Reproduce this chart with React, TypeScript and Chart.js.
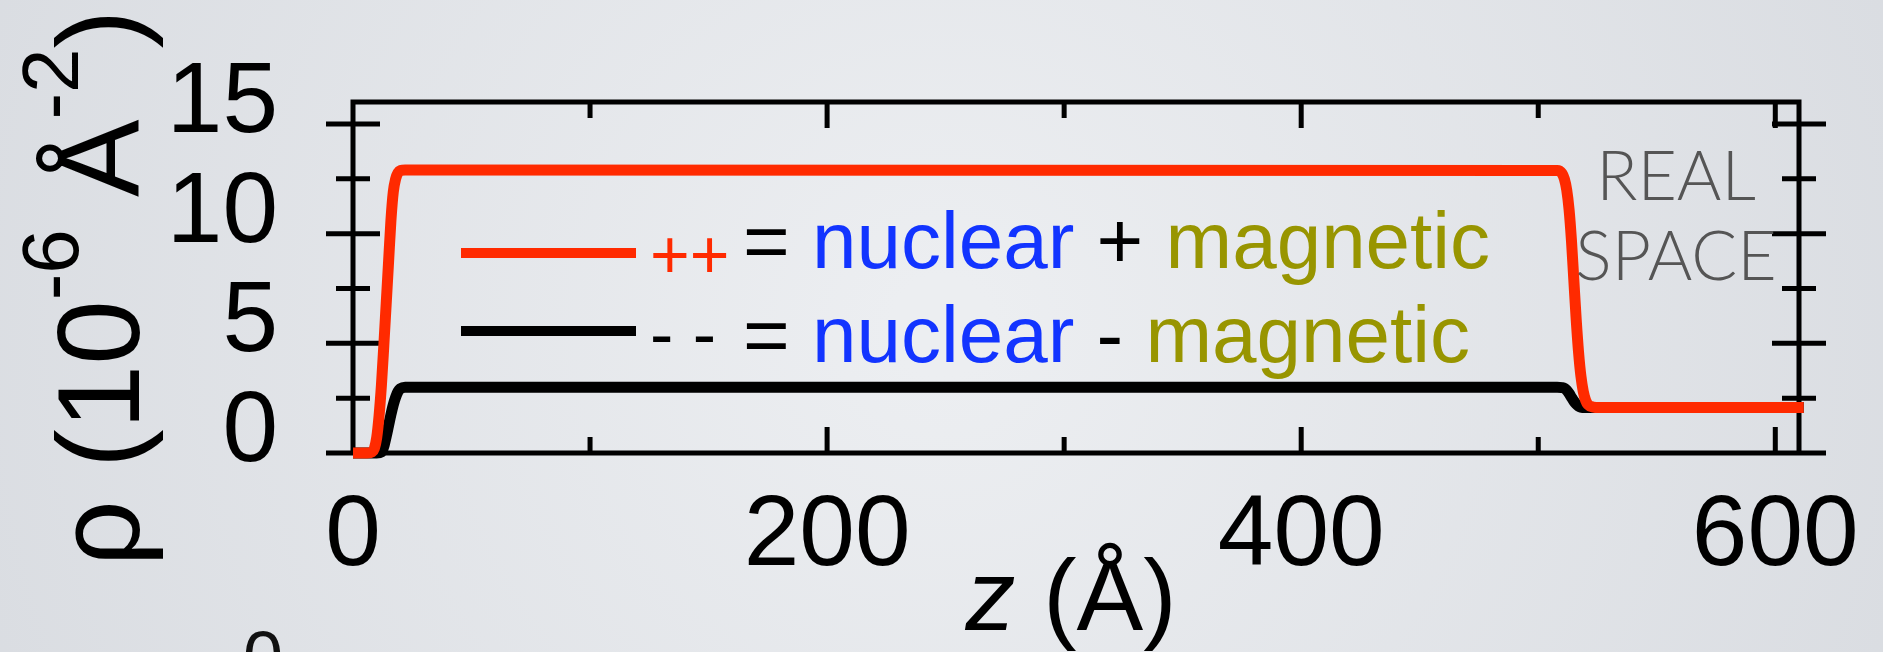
import { useEffect, useRef } from 'react';
import { Chart, registerables } from 'chart.js';

Chart.register(...registerables);

const W = 1883;
const H = 652;

// Spin-up (++) scattering length density profile: z in Å, ρ in 10^-6 Å^-2
const upUpZ = [0, 6, 8, 9, 10, 11, 12, 13, 14, 15, 16, 17, 18, 19, 20, 22, 508, 510, 511, 512, 513, 514, 515, 516, 517, 518, 519, 520, 521, 523, 526, 612];
const upUpRho = [0, 0, 0.05, 0.2, 0.7, 1.7, 3.1, 4.9, 6.8, 8.7, 10.6, 11.9, 12.5, 12.78, 12.88, 12.9, 12.88, 12.75, 12.5, 12.0, 11.1, 9.7, 7.9, 6.1, 4.6, 3.5, 2.8, 2.4, 2.2, 2.1, 2.07, 2.07];

// Spin-down (--) profile
const downDownZ = [0, 10, 12, 13, 14, 15, 16, 17, 18, 19, 20, 22, 508, 510, 511, 512, 513, 514, 515, 516, 517, 518, 520, 612];
const downDownRho = [0, 0, 0.05, 0.3, 0.75, 1.25, 1.75, 2.2, 2.55, 2.8, 2.93, 3.0, 3.0, 2.98, 2.95, 2.86, 2.72, 2.54, 2.37, 2.23, 2.14, 2.09, 2.07, 2.07];

const xTickValues = [100, 200, 300, 400, 500, 600];
const xLabelValues = [0, 200, 400, 600];
const yTickValues = [0, 2.5, 5, 7.5, 10, 12.5, 15];
const yLabelValues = [0, 5, 10, 15];

const RED = '#ff2a00';
const BLUE = '#1234ff';
const OLIVE = '#989500';
const SANS = '"Liberation Sans", Arial, Helvetica, sans-serif';
const PROFILE_WIDTH = 11;

const backgroundPlugin = {
  id: 'slideBackground',
  beforeDraw(chart: any) {
    const { ctx, width, height } = chart;
    ctx.save();
    const g = ctx.createRadialGradient(width / 2, height / 2, 50, width / 2, height / 2, 1050);
    g.addColorStop(0, '#eceef1');
    g.addColorStop(1, '#d9dce1');
    ctx.fillStyle = g;
    ctx.fillRect(0, 0, width, height);
    ctx.restore();
  },
};

const framePlugin = {
  id: 'frameAndTicks',
  beforeDatasetsDraw(chart: any) {
    const { ctx, chartArea: a, scales } = chart;
    const x = scales.x;
    const y = scales.y;
    ctx.save();
    ctx.strokeStyle = '#000';
    ctx.lineWidth = 5;
    ctx.lineCap = 'butt';
    ctx.lineJoin = 'miter';
    ctx.beginPath();
    ctx.moveTo(a.left, a.bottom);
    ctx.lineTo(a.left, a.top);
    ctx.lineTo(a.right, a.top);
    ctx.lineTo(a.right, a.bottom);
    ctx.stroke();

    ctx.beginPath();
    for (const v of yTickValues) {
      const py = y.getPixelForValue(v);
      const len = v % 5 === 0 ? 27 : 17;
      ctx.moveTo(a.left - len, py);
      ctx.lineTo(a.left + len, py);
      ctx.moveTo(a.right - len, py);
      ctx.lineTo(a.right + len, py);
    }
    ctx.moveTo(a.left, a.bottom);
    ctx.lineTo(a.right, a.bottom);
    for (const v of xTickValues) {
      const px = x.getPixelForValue(v);
      const len = v % 200 === 0 ? 26 : 16;
      ctx.moveTo(px, a.bottom);
      ctx.lineTo(px, a.bottom - len);
      ctx.moveTo(px, a.top);
      ctx.lineTo(px, a.top + len);
    }
    ctx.stroke();
    ctx.restore();
  },
};

type Seg = { t: string; color?: string; font?: string; dy?: number };

function drawRun(ctx: CanvasRenderingContext2D, segs: Seg[], x0: number, y0: number) {
  let x = x0;
  for (const s of segs) {
    ctx.font = s.font || `80px ${SANS}`;
    ctx.fillStyle = s.color || '#000';
    ctx.fillText(s.t, x, y0 + (s.dy || 0));
    x += ctx.measureText(s.t).width;
  }
}

function runWidth(ctx: CanvasRenderingContext2D, segs: Seg[]) {
  let w = 0;
  for (const s of segs) {
    ctx.font = s.font || `80px ${SANS}`;
    w += ctx.measureText(s.t).width;
  }
  return w;
}

const textPlugin = {
  id: 'annotations',
  afterDatasetsDraw(chart: any) {
    const { ctx, chartArea: a, scales } = chart;
    const x = scales.x;
    const y = scales.y;
    ctx.save();
    ctx.textBaseline = 'alphabetic';

    // tick labels
    ctx.fillStyle = '#000';
    ctx.font = `100px ${SANS}`;
    ctx.textAlign = 'right';
    for (const v of yLabelValues) {
      ctx.fillText(String(v), 278, y.getPixelForValue(v) + 8);
    }
    ctx.textAlign = 'center';
    for (const v of xLabelValues) {
      ctx.fillText(String(v), x.getPixelForValue(v), a.bottom + 112);
    }

    // x title
    ctx.textAlign = 'left';
    const xTitle: Seg[] = [
      { t: 'z', font: `italic 100px ${SANS}` },
      { t: ' (Å)', font: `100px ${SANS}` },
    ];
    const xtw = runWidth(ctx, xTitle);
    drawRun(ctx, xTitle, 1071 - xtw / 2, 630);

    // y title, rotated
    const main = `116px ${SANS}`;
    const sup = `80px ${SANS}`;
    const yTitle: Seg[] = [
      { t: 'ρ (10', font: main },
      { t: '-6', font: sup, dy: -61 },
      { t: ' Å', font: main },
      { t: '-2', font: sup, dy: -61 },
      { t: ')', font: main },
    ];
    const ytw = runWidth(ctx, yTitle);
    ctx.save();
    ctx.translate(139, 288 + ytw / 2);
    ctx.rotate(-Math.PI / 2);
    drawRun(ctx, yTitle, 0, 0);
    ctx.restore();

    // legend
    ctx.lineCap = 'butt';
    ctx.lineWidth = 10;
    ctx.strokeStyle = RED;
    ctx.beginPath();
    ctx.moveTo(461, 253);
    ctx.lineTo(636, 253);
    ctx.stroke();
    ctx.strokeStyle = '#000';
    ctx.beginPath();
    ctx.moveTo(461, 331);
    ctx.lineTo(636, 331);
    ctx.stroke();

    drawRun(ctx, [{ t: '++', color: RED, font: `68px ${SANS}` }], 650, 278);
    drawRun(ctx, [{ t: '- -', color: '#000', font: `70px ${SANS}` }], 650, 358);
    drawRun(ctx, [
      { t: '= ' },
      { t: 'nuclear', color: BLUE },
      { t: ' + ' },
      { t: 'magnetic', color: OLIVE },
    ], 743, 268);
    drawRun(ctx, [
      { t: '= ' },
      { t: 'nuclear', color: BLUE },
      { t: ' - ' },
      { t: 'magnetic', color: OLIVE },
    ], 743, 362);

    // corner tag
    ctx.textAlign = 'center';
    ctx.fillStyle = '#555555';
    ctx.font = `300 68px Lato, "Open Sans", sans-serif`;
    ctx.fillText('REAL', 1676, 200);
    ctx.fillText('SPACE', 1676, 280);

    // edge of a label continuing below
    ctx.fillStyle = '#111';
    ctx.font = `72px ${SANS}`;
    ctx.fillText('0', 263, 682);

    ctx.restore();
  },
};

export default function App() {
  const canvasRef = useRef<HTMLCanvasElement | null>(null);

  useEffect(() => {
    const canvas = canvasRef.current;
    if (!canvas) return;
    const toPoints = (zs: number[], rs: number[]) => zs.map((z, i) => ({ x: z, y: rs[i] }));
    const chart = new Chart(canvas, {
      type: 'line',
      data: {
        datasets: [
          {
            label: '++',
            data: toPoints(upUpZ, upUpRho),
            borderColor: RED,
            borderWidth: PROFILE_WIDTH,
            pointRadius: 0,
            cubicInterpolationMode: 'monotone',
            borderJoinStyle: 'round',
            clip: false,
          } as any,
          {
            label: '--',
            data: toPoints(downDownZ, downDownRho),
            borderColor: '#000',
            borderWidth: PROFILE_WIDTH,
            pointRadius: 0,
            cubicInterpolationMode: 'monotone',
            borderJoinStyle: 'round',
            clip: false,
          } as any,
        ],
      },
      options: {
        responsive: false,
        animation: false,
        devicePixelRatio: 1,
        layout: { padding: { left: 353, right: 84, top: 102, bottom: 199 } },
        plugins: { legend: { display: false }, tooltip: { enabled: false } },
        scales: {
          x: { type: 'linear', min: 0, max: 610, display: false },
          y: { type: 'linear', min: 0, max: 16, display: false },
        },
      },
      plugins: [backgroundPlugin, framePlugin, textPlugin],
    });
    return () => chart.destroy();
  }, []);

  return (
    <div style={{ position: 'fixed', left: 0, top: 0, width: W, height: H }}>
      <canvas ref={canvasRef} width={W} height={H} style={{ display: 'block', width: W, height: H }} />
    </div>
  );
}
